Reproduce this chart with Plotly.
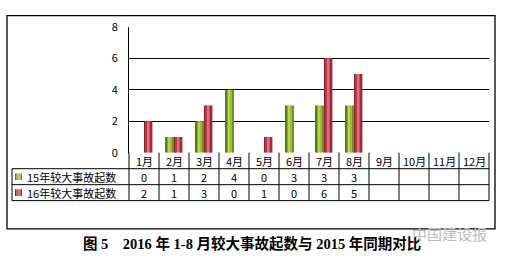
import plotly.graph_objects as go

months = ["1月", "2月", "3月", "4月", "5月", "6月", "7月", "8月", "9月", "10月", "11月", "12月"]
s15_name = "15年较大事故起数"
s16_name = "16年较大事故起数"
s15 = [0, 1, 2, 4, 0, 3, 3, 3, None, None, None, None]
s16 = [2, 1, 3, 0, 1, 0, 6, 5, None, None, None, None]
y_ticks = [0, 2, 4, 6, 8]
caption = "图 5\u00a0\u00a0\u00a0 2016 年 1-8 月较大事故起数与 2015 年同期对比"
watermark = "中国建设报"

W, H = 505, 264
def px(x): return x / W
def py(y): return 1 - y / H

# plot area in pixels
X0, X1, Y0, Y1 = 129, 489, 19, 153
CW = (X1 - X0) / 12
ROW1, ROW2, ROW3 = 170, 187, 204
TL = 12

green_stripes = ["#5b7a1b", "#86ad2a", "#b4d646", "#98bf34", "#6f9222"]
red_stripes = ["#82222f", "#b83a49", "#e8687a", "#d34f60", "#9c2c3b"]
bw = 0.28
nst = len(green_stripes)
sw = bw / nst

fig = go.Figure()
xs = list(range(12))
for k, c in enumerate(green_stripes):
    fig.add_trace(go.Bar(x=xs, y=s15, width=sw, offset=-bw + k * sw, marker=dict(color=c, line=dict(width=0)),
                         showlegend=False, hoverinfo="skip"))
for k, c in enumerate(red_stripes):
    fig.add_trace(go.Bar(x=xs, y=s16, width=sw, offset=k * sw, marker=dict(color=c, line=dict(width=0)),
                         showlegend=False, hoverinfo="skip"))

shapes = []
line = dict(color="black", width=1)
# outer frame
shapes.append(dict(type="rect", xref="paper", yref="paper", x0=px(7), x1=px(495), y0=py(7), y1=py(234), line=dict(color="black", width=1.3)))
# table horizontal lines
for yy in [ROW1, ROW2, ROW3]:
    shapes.append(dict(type="line", xref="paper", yref="paper", x0=px(TL), x1=px(X1), y0=py(yy), y1=py(yy), line=line))
# vertical lines
shapes.append(dict(type="line", xref="paper", yref="paper", x0=px(TL), x1=px(TL), y0=py(ROW1), y1=py(ROW3), line=line))
for i in range(13):
    xx = X0 + i * CW
    shapes.append(dict(type="line", xref="paper", yref="paper", x0=px(xx), x1=px(xx), y0=py(Y1), y1=py(ROW3), line=line))
# legend key squares
for row_top, cols in [(ROW1, green_stripes), (ROW2, red_stripes)]:
    sq_x0, sq_w = 15, 7
    yc = row_top + 8.5
    n = len(cols)
    for k, c in enumerate(cols):
        shapes.append(dict(type="rect", xref="paper", yref="paper", x0=px(sq_x0 + k * sq_w / n), x1=px(sq_x0 + (k + 1) * sq_w / n),
                           y0=py(yc + 3.5), y1=py(yc - 3.5), line=dict(width=0), fillcolor=c))

ann = []
tf = dict(family="Noto Sans CJK SC, sans-serif", size=11, color="black")
for i, m in enumerate(months):
    ann.append(dict(x=i, xref="x", y=py((Y1 + ROW1) / 2), yref="paper", text=m, showarrow=False, font=tf, xanchor="center", yanchor="middle"))
for row_top, vals in [(ROW1, s15), (ROW2, s16)]:
    for i, v in enumerate(vals):
        if v is None:
            continue
        ann.append(dict(x=i, xref="x", y=py(row_top + 8.5), yref="paper", text=str(v), showarrow=False, font=tf, xanchor="center", yanchor="middle"))
ann.append(dict(x=px(25), xref="paper", y=py(ROW1 + 8.5), yref="paper", text=s15_name, showarrow=False, font=tf, xanchor="left", yanchor="middle"))
ann.append(dict(x=px(25), xref="paper", y=py(ROW2 + 8.5), yref="paper", text=s16_name, showarrow=False, font=tf, xanchor="left", yanchor="middle"))
ann.append(dict(x=px(252), xref="paper", y=py(250), yref="paper", text="<b>" + caption + "</b>", showarrow=False,
                font=dict(family="Liberation Serif, Noto Sans CJK SC, serif", size=14.5, color="black"), xanchor="center", yanchor="middle"))
ann.append(dict(x=px(449), xref="paper", y=py(239), yref="paper", text=watermark, showarrow=False,
                font=dict(family="Noto Sans CJK SC, sans-serif", size=15, color="#bdbdbd"), xanchor="center", yanchor="middle"))

fig.update_layout(
    width=W, height=H,
    margin=dict(l=0, r=0, t=0, b=0),
    paper_bgcolor="white", plot_bgcolor="white",
    barmode="overlay",
    showlegend=False,
    xaxis=dict(domain=[px(X0), px(X1)], range=[-0.5, 11.5], showticklabels=False, showgrid=False, zeroline=False,
               showline=False, fixedrange=True),
    yaxis=dict(domain=[py(Y1), py(Y0)], range=[0, 8], tickvals=y_ticks, showgrid=True, gridcolor="black", gridwidth=1,
               zeroline=False, showline=True, linecolor="black", linewidth=1, ticks="outside", ticklen=8,
               tickcolor="rgba(0,0,0,0)",
               tickfont=dict(family="Noto Sans CJK SC, sans-serif", size=11, color="black"), fixedrange=True),
    shapes=shapes,
    annotations=ann,
)

fig.write_html("out.html")
